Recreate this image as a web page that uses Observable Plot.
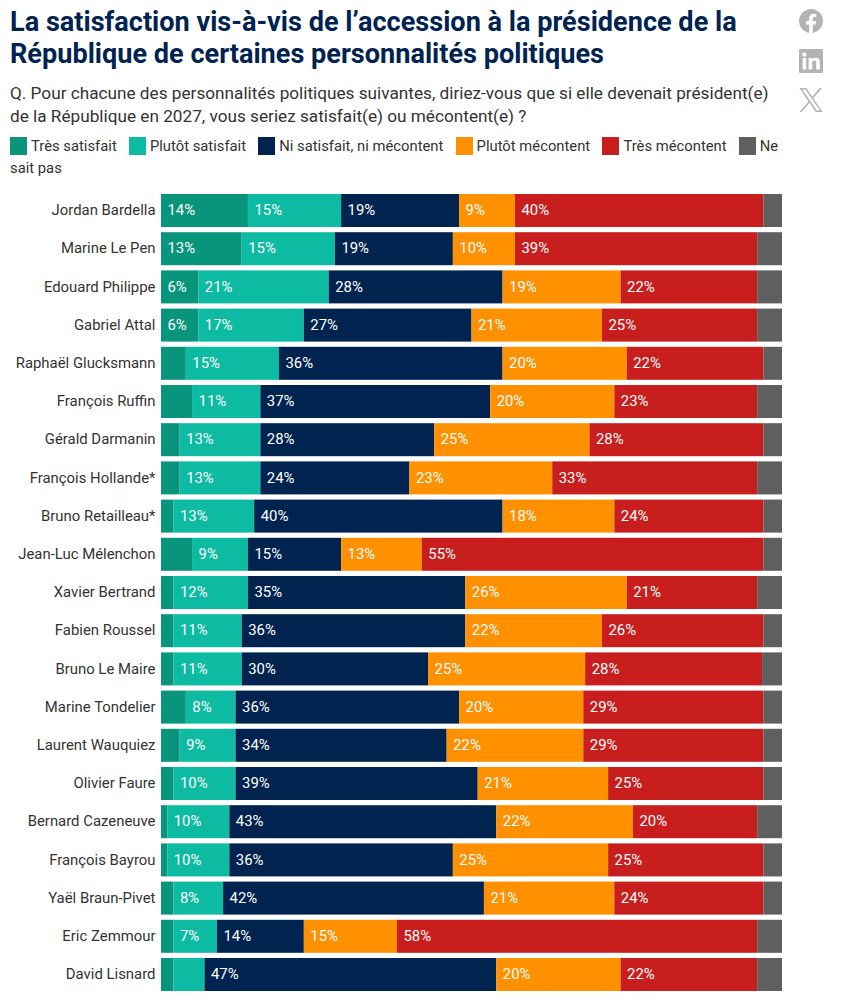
<!DOCTYPE html>
<html lang="fr">
<head>
<meta charset="utf-8">
<script src="https://cdn.jsdelivr.net/npm/d3@7"></script>
<script src="https://cdn.jsdelivr.net/npm/@observablehq/plot@0.6"></script>
<style>
html,body{margin:0;padding:0;background:#fff;}
body{width:854px;height:1000px;position:relative;overflow:hidden;font-family:Roboto,sans-serif;}
h1{position:absolute;left:10px;top:6px;width:780px;margin:0;font-size:27.1px;line-height:32px;font-weight:700;color:#00234f;}
#sub{position:absolute;left:10px;top:81.500px;width:775px;margin:0;font-size:17.2px;line-height:23px;color:#333;}
#legend{position:absolute;left:10px;top:135px;width:775px;font-size:14.8px;line-height:22px;color:#333;}
#legend .sw{display:inline-block;width:17px;height:18px;vertical-align:-4px;margin-right:4px;}
#legend .it{margin-right:8.500px;}
#icons{position:absolute;left:799px;top:9px;width:24px;}
#icons svg{display:block;position:absolute;left:0;}
#chart{position:absolute;left:0;top:186px;}
#chart svg{display:block;}
</style>
</head>
<body>
<h1>La satisfaction vis-à-vis de l’accession à la présidence de la République de certaines personnalités politiques</h1>
<p id="sub">Q. Pour chacune des personnalités politiques suivantes, diriez-vous que si elle devenait président(e) de la République en 2027, vous seriez satisfait(e) ou mécontent(e) ?</p>
<div id="legend"></div>
<div id="icons">
<svg style="top:0" width="24" height="24" viewBox="0 0 24 24"><path fill="#b3b3b3" d="M24 12a12 12 0 1 0-13.9 11.9v-8.4H7.100V12h3V9.400c0-3 1.800-4.700 4.500-4.700 1.300 0 2.700.2 2.700.2v3h-1.500c-1.500 0-2 .9-2 1.900V12h3.400l-.5 3.500h-2.900v8.400A12 12 0 0 0 24 12z"/></svg>
<svg style="top:40px" width="24" height="24" viewBox="0 0 24 24"><path fill="#b3b3b3" d="M1 0h22a1 1 0 0 1 1 1v22a1 1 0 0 1-1 1H1a1 1 0 0 1-1-1V1a1 1 0 0 1 1-1zM3.600 9v11.400h3.600V9zM5.400 3.600a2.100 2.100 0 1 0 0 4.200 2.100 2.100 0 0 0 0-4.200zM9.600 9v11.400h3.600v-6c0-1.600.5-2.900 2.200-2.900s1.800 1.500 1.800 3v5.900h3.600v-6.600c0-3.200-.8-5.100-4.300-5.100-1.700 0-2.800.8-3.300 1.700V9z"/></svg>
<svg style="top:79px" width="24" height="24" viewBox="0 0 24 24"><path fill="#b3b3b3" d="M14.200 10.200 22.900 0h-2.100l-7.500 8.800L7.300 0H.4l9.100 13.600L.4 24h2.100l8-9.200 6.300 9.200h6.900zM3.200 1.600h3.200l14.600 20.900h-3.200z"/></svg>
</div>
<div id="chart"></div>
<script>
const names = ["Jordan Bardella","Marine Le Pen","Edouard Philippe","Gabriel Attal","Raphaël Glucksmann","François Ruffin","Gérald Darmanin","François Hollande*","Bruno Retailleau*","Jean-Luc Mélenchon","Xavier Bertrand","Fabien Roussel","Bruno Le Maire","Marine Tondelier","Laurent Wauquiez","Olivier Faure","Bernard Cazeneuve","François Bayrou","Yaël Braun-Pivet","Eric Zemmour","David Lisnard"];
const categories = ["Très satisfait","Plutôt satisfait","Ni satisfait, ni mécontent","Plutôt mécontent","Très mécontent","Ne sait pas"];
const colors = ["#08957c","#0cbba1","#00234f","#ff9000","#c81e1e","#5f5f5f"];
const tresSatisfait =   [14,13,6,6,4,5,3,3,2,5,2,2,2,4,3,2,1,1,2,2,2];
const plutotSatisfait = [15,15,21,17,15,11,13,13,13,9,12,11,11,8,9,10,10,10,8,7,5];
const ni =              [19,19,28,27,36,37,28,24,40,15,35,36,30,36,34,39,43,36,42,14,47];
const plutotMecontent = [9,10,19,21,20,20,25,23,18,13,26,22,25.3,20,22,21,22,25,21,15,20];
const tresMecontent =   [40,39,22,25,22,23,28,33,24,55,21,26,28.49,29,29,25,20,25,24,58,22];
const neSaitPas =       [3,4,4,4,3,4,3,4,3,3,4,3,3.21,3,3,3,4,3,3,4,4];
const series = [tresSatisfait,plutotSatisfait,ni,plutotMecontent,tresMecontent,neSaitPas];

const rows = [];
names.forEach((name,i)=>series.forEach((s,j)=>{
  rows.push({name,category:categories[j],value:s[i],show:j<5&&s[i]>=6});
}));

document.getElementById("legend").innerHTML = categories.map((c,i)=>{
  const words = c.split(" ").map(w=>`<span>${w}</span>`).join(" ");
  return `<span class="sw" style="background:${colors[i]}"></span><span class="it">${words}</span>`;
}).join(" ");

const plot = Plot.plot({
  width:854,height:814,
  marginLeft:161,marginRight:72,marginTop:8,marginBottom:9,
  style:{fontFamily:"Roboto,sans-serif",fontSize:"15px",background:"#fff"},
  x:{domain:[0,100],axis:null},
  y:{domain:names,paddingInner:0.136,paddingOuter:0,round:false,label:null,tickSize:0,tickPadding:6},
  color:{domain:categories,range:colors},
  marks:[
    Plot.axisY({tickSize:0,tickPadding:6,label:null,fontSize:14.9,color:"#333",lineWidth:20,dy:-0.5}),
    Plot.barX(rows,Plot.stackX({x:"value",y:"name",z:"category",fill:"category",order:null})),
    Plot.text(rows,Plot.stackX1({x:"value",y:"name",z:"category",order:null,
      text:d=>d.show?Math.round(d.value)+"%":"",textAnchor:"start",dx:6,dy:-0.5,fill:"#fff",fontSize:14.9}))
  ]
});
document.getElementById("chart").appendChild(plot);
</script>
</body>
</html>
